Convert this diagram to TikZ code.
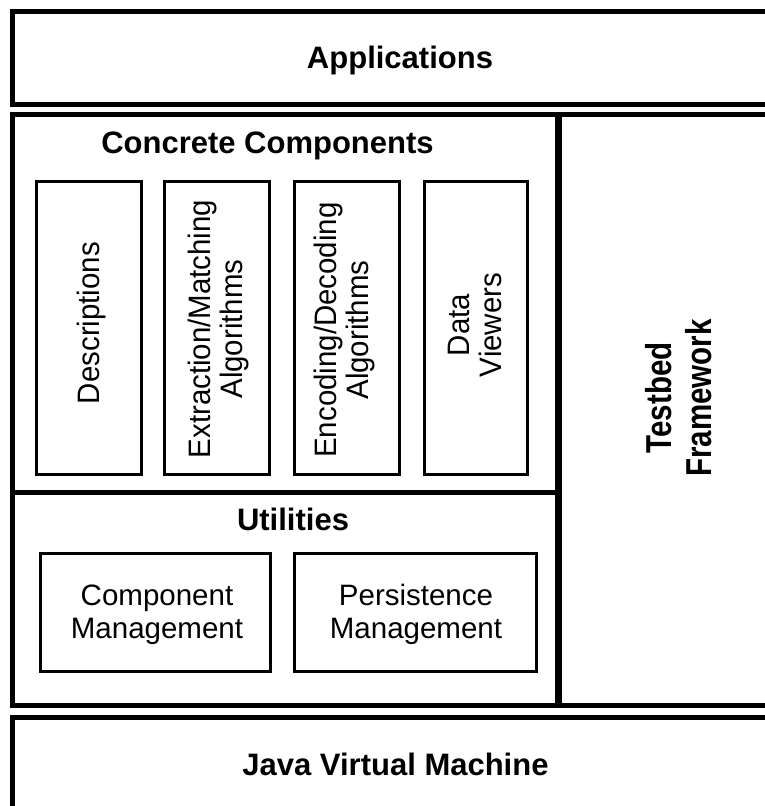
\documentclass[tikz,border=0pt]{standalone}
\usepackage{fontspec}
\usepackage{graphicx}
\setmainfont{Liberation Sans}
\newfontfamily\labelfont[FakeStretch=0.95]{Liberation Sans}
\newfontfamily\sidefont[FakeStretch=0.82]{Liberation Sans}

\tikzset{
  layer/.style={line width=5pt, draw=black},
  part/.style={line width=3pt, draw=black},
  title/.style={font=\fontsize{31}{33}\selectfont\bfseries, anchor=base, inner sep=0pt},
  vlabel/.style={font=\labelfont\fontsize{31}{32}\selectfont, rotate=90, align=center, inner sep=0pt},
  hlabel/.style={font=\fontsize{29.5}{33}\selectfont, align=center, inner sep=0pt},
  side/.style={font=\sidefont\bfseries\fontsize{36}{40}\selectfont, rotate=90, align=center, inner sep=0pt},
}

\begin{document}
\begin{tikzpicture}[x=1pt,y=-1pt]
\useasboundingbox (0,0) rectangle (765,806);
\fill[white] (0,0) rectangle (765,806);
\clip (0,0) rectangle (765,806);

% layers of the architecture
\draw[layer] (12.8,11) rectangle (800,104);
\draw[layer] (12.8,114) rectangle (800,705.5);
\draw[layer] (12.8,717.5) rectangle (800,840);
\draw[line width=7pt] (558,114) -- (558,705.5);
\draw[layer] (12.8,492.5) -- (558,492.5);

% concrete components
\draw[part] (36.5,181) rectangle (141.5,474.5);
\draw[part] (164.5,181) rectangle (269.5,474.5);
\draw[part] (294.5,181) rectangle (399.5,474.5);
\draw[part] (424.5,181) rectangle (527.5,474.5);

% utilities
\draw[part] (40.5,553.5) rectangle (270.5,671.5);
\draw[part] (294.5,553.5) rectangle (536.5,671.5);

% labels
\node[title] (apps) at (400,68) {Applications};
\node[title] (cc) at (267.5,153) {Concrete Components};
\node[title] (util) at (293,530) {Utilities};
\node[title] (jvm) at (395.5,775) {Java Virtual Machine};

\node[vlabel] (desc) at (91.5,323) {Descriptions};
\node[vlabel] (ext) at (218.5,329) {Extraction/Matching\\Algorithms};
\node[vlabel] (enc) at (344.5,330) {Encoding/Decoding\\Algorithms};
\node[vlabel] (dv) at (475,325) {Data\\Viewers};

\node[hlabel] (cm) at (157,615) {Component\\Management};
\node[hlabel] (pm) at (416,614) {Persistence\\Management};

\node[side] (tb) at (679,398) {Testbed\\Framework};
\end{tikzpicture}
\end{document}
